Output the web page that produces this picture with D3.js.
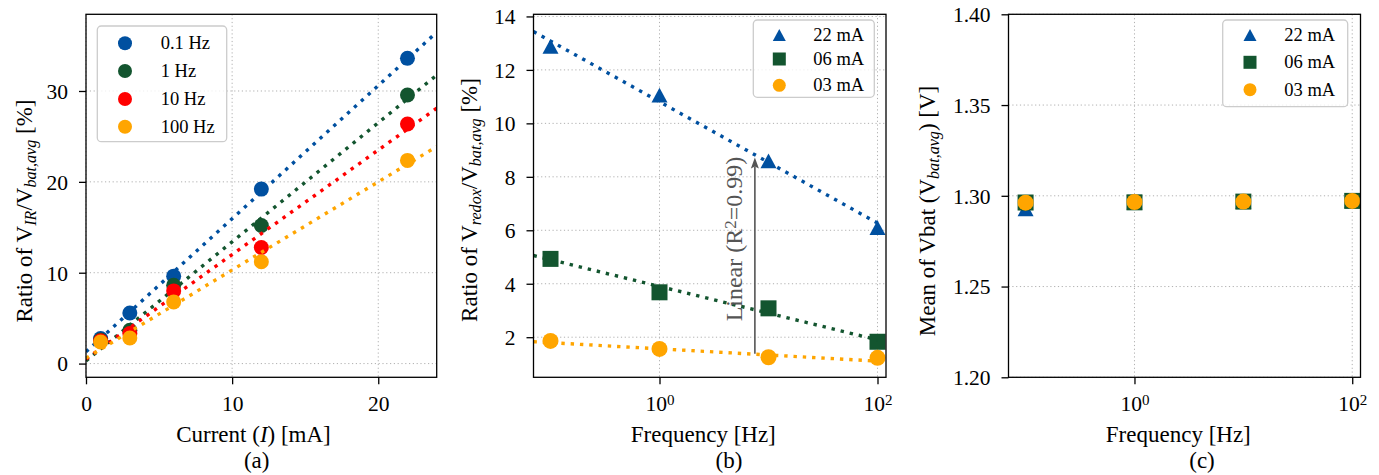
<!DOCTYPE html>
<html><head><meta charset="utf-8">
<script src="https://cdn.jsdelivr.net/npm/d3@7"></script>
<style>
body{margin:0;background:#fff}
text{font-family:"Liberation Serif","Times New Roman",serif;fill:#000}
</style>
</head><body>
<svg id="chart" width="1379" height="475"></svg>
<script>
// ---------- Panel (a) data ----------
const currentsMA = [1, 3, 6, 12, 22];
const freqLabelsA = ["0.1 Hz", "1 Hz", "10 Hz", "100 Hz"];
const ratioIR_0p1Hz = [2.75, 5.57, 9.62, 19.2, 33.6];
const ratioIR_1Hz   = [2.6, 3.67, 8.62, 15.2, 29.56];
const ratioIR_10Hz  = [2.5, 3.3, 8.0, 12.78, 26.36];
const ratioIR_100Hz = [2.38, 2.82, 6.79, 11.2, 22.36];
const fitSlopeA     = [1.465, 1.31, 1.15, 0.97];
const fitInterceptA = [1.3, 0.3, 0.5, 0.6];
const xTicksA = [0, 10, 20];
const yTicksA = [0, 10, 20, 30];

// ---------- Panel (b) data ----------
const freqsHz = [0.1, 1, 10, 100];
const currentLabels = ["22 mA", "06 mA", "03 mA"];
const redox_22mA = [12.88, 11.06, 8.6, 6.1];
const redox_06mA = [4.93, 3.68, 3.08, 1.83];
const redox_03mA = [1.86, 1.56, 1.25, 1.23];
const fitSlopeB     = [-2.27, -1.0, -0.23];   // per decade
const fitInterceptB = [10.81, 3.9, 1.565];    // at 1 Hz
const annotArrowFreq = 7.5, annotArrowFrom = 1.38, annotArrowTo = 8.72;
const annotTextFreq = 5.74, annotTextY = 5.67;
const yTicksB = [2, 4, 6, 8, 10, 12, 14];
const logTicks = [1, 100];

// ---------- Panel (c) data ----------
const vbat_22mA = [1.2928, 1.2965, 1.2968, 1.2972];
const vbat_06mA = [1.2963, 1.2964, 1.2968, 1.2972];
const vbat_03mA = [1.2962, 1.2966, 1.2968, 1.2972];
const yTicksC = [1.20, 1.25, 1.30, 1.35, 1.40];

// ---------- styles ----------
const BLUE = "#0050a0", GREEN = "#13552f", RED = "#ff0000", ORANGE = "#ffa500";
const colorsA = [BLUE, GREEN, RED, ORANGE];
const colorsB = [BLUE, GREEN, ORANGE];
const shapesB = ["tri", "sq", "circ"];
const TICKFS = 21.5, LABELFS = 23, LEGFS = 18.5;

const svg = d3.select("#chart");

function rich(textSel, parts) {
  parts.forEach(p => {
    const ts = textSel.append("tspan").text(p.t);
    if (p.it) ts.attr("font-style", "italic");
    if (p.sub) ts.attr("baseline-shift", "-22%").attr("font-size", "70%");
    if (p.sup) ts.attr("baseline-shift", "38%").attr("font-size", "70%");
  });
  return textSel;
}

function marker(g, shape, x, y, color, s) {
  if (shape === "circ") {
    g.append("circle").attr("cx", x).attr("cy", y).attr("r", s / 2).attr("fill", color);
  } else if (shape === "sq") {
    g.append("rect").attr("x", x - s / 2).attr("y", y - s / 2).attr("width", s).attr("height", s).attr("fill", color);
  } else {
    const w = s, h = s * 0.92;
    g.append("path").attr("d", `M${x},${y - h / 2}L${x + w / 2},${y + h / 2}L${x - w / 2},${y + h / 2}Z`).attr("fill", color);
  }
}

function panel(cfg) {
  const g = svg.append("g");
  const {x, y, L, R, T, B} = cfg;
  const clipId = "clip" + cfg.id;
  svg.append("clipPath").attr("id", clipId).append("rect")
    .attr("x", L).attr("y", T).attr("width", R - L).attr("height", B - T);
  // grid
  const grid = g.append("g").attr("stroke", "#b0b0b0").attr("stroke-width", 1).attr("stroke-dasharray", "1.2,2.6");
  cfg.xTicks.forEach(v => grid.append("line").attr("x1", x(v)).attr("x2", x(v)).attr("y1", T).attr("y2", B));
  cfg.yTicks.forEach(v => grid.append("line").attr("x1", L).attr("x2", R).attr("y1", y(v)).attr("y2", y(v)));
  // axes
  const ax = g.append("g").attr("transform", `translate(0,${B})`)
    .call(d3.axisBottom(x).tickValues(cfg.xTicks).tickSize(7).tickSizeOuter(0).tickPadding(11).tickFormat(cfg.xFmt || (d => d)));
  const ay = g.append("g").attr("transform", `translate(${L},0)`)
    .call(d3.axisLeft(y).tickValues(cfg.yTicks).tickSize(7).tickSizeOuter(0).tickPadding(11).tickFormat(cfg.yFmt || (d => d)));
  [ax, ay].forEach(a => {
    a.select(".domain").remove();
    a.selectAll(".tick line").attr("stroke", "#000").attr("stroke-width", 1.3);
    a.selectAll(".tick text").attr("font-size", TICKFS).attr("font-family", '"Liberation Serif",serif').attr("fill", "#000");
  });
  ay.selectAll(".tick text").attr("dy", "0.34em");
  if (cfg.logX) {
    ax.selectAll(".tick text").each(function (d) {
      const t = d3.select(this); t.text("");
      rich(t, [{t: "10"}, {t: String(Math.round(Math.log10(d))), sup: true}]);
    });
  }
  const plot = g.append("g").attr("clip-path", `url(#${clipId})`);
  cfg.draw(plot);
  // frame
  g.append("rect").attr("x", L).attr("y", T).attr("width", R - L).attr("height", B - T)
    .attr("fill", "none").attr("stroke", "#000").attr("stroke-width", 1.3);
  cfg.after && cfg.after(g);
  // labels
  rich(g.append("text").attr("text-anchor", "middle").attr("font-size", LABELFS)
    .attr("transform", `translate(${cfg.yl[0]},${cfg.yl[1]}) rotate(-90)`), cfg.ylabel);
  rich(g.append("text").attr("text-anchor", "middle").attr("font-size", LABELFS)
    .attr("x", cfg.xl[0]).attr("y", cfg.xl[1]), cfg.xlabel);
  g.append("text").attr("text-anchor", "middle").attr("font-size", LABELFS)
    .attr("x", cfg.cap[0]).attr("y", cfg.cap[1]).text(cfg.caption);
  // legend
  const lg = g.append("g");
  const lb = cfg.legend;
  lg.append("rect").attr("x", lb.x0).attr("y", lb.y0).attr("width", lb.x1 - lb.x0).attr("height", lb.y1 - lb.y0)
    .attr("rx", 4).attr("fill", "#fff").attr("fill-opacity", 0.8).attr("stroke", "#cccccc").attr("stroke-width", 1.3);
  lb.items.forEach((it, i) => {
    marker(lg, it.shape, lb.mx, lb.rows[i], it.color, it.size);
    lg.append("text").attr("x", lb.tx).attr("y", lb.rows[i]).attr("dy", "0.33em").attr("font-size", LEGFS).text(it.label);
  });
  return g;
}

const dotted = sel => sel.attr("fill", "none").attr("stroke-width", 3.4).attr("stroke-dasharray", "3.4,5.9");

// ---------- Panel (a) ----------
{
  const L = 86, R = 436.7, T = 14.3, B = 377.3;
  const x = d3.scaleLinear().domain([0, 24]).range([L, R]);
  const y = d3.scaleLinear().domain([-1.51, 38.44]).range([B, T]);
  const seriesA = [ratioIR_0p1Hz, ratioIR_1Hz, ratioIR_10Hz, ratioIR_100Hz];
  panel({
    id: "a", x, y, L, R, T, B, xTicks: xTicksA, yTicks: yTicksA,
    draw: p => {
      seriesA.forEach((vals, i) => {
        vals.forEach((v, j) => marker(p, "circ", x(currentsMA[j]), y(v), colorsA[i], 15));
        const dom = x.domain();
        const line = d3.line().x(d => x(d)).y(d => y(fitInterceptA[i] + fitSlopeA[i] * d));
        p.append("path").attr("d", line(dom)).attr("stroke", colorsA[i]).call(dotted);
      });
    },
    yl: [32, 211],
    ylabel: [{t: "Ratio of V"}, {t: "IR", sub: true, it: true}, {t: "/V"}, {t: "bat,avg", sub: true, it: true}, {t: " [%]"}],
    xl: [253.5, 442],
    xlabel: [{t: "Current ("}, {t: "I", it: true}, {t: ") [mA]"}],
    cap: [256.7, 468], caption: "(a)",
    legend: {x0: 97.3, x1: 226.7, y0: 26, y1: 141.7, mx: 125, tx: 160.7, rows: [43.3, 71, 99, 126.7],
      items: freqLabelsA.map((l, i) => ({label: l, color: colorsA[i], shape: "circ", size: 14}))}
  });
}

// ---------- Panel (b) ----------
{
  const L = 533.5, R = 886, T = 14.3, B = 377.3;
  const x = d3.scaleLog().domain([Math.pow(10, -1.156), Math.pow(10, 2.078)]).range([L, R]);
  const y = d3.scaleLinear().domain([0.5, 14.08]).range([B, T]);
  const seriesB = [redox_22mA, redox_06mA, redox_03mA];
  panel({
    id: "b", x, y, L, R, T, B, xTicks: logTicks, yTicks: yTicksB, logX: true,
    draw: p => {
      seriesB.forEach((vals, i) => {
        vals.forEach((v, j) => marker(p, shapesB[i], x(freqsHz[j]), y(v), colorsB[i], 16));
        const fx = [x.domain()[0], freqsHz[freqsHz.length - 1]];
        const line = d3.line().x(d => x(d)).y(d => y(fitInterceptB[i] + fitSlopeB[i] * Math.log10(d)));
        p.append("path").attr("d", line(fx)).attr("stroke", colorsB[i]).call(dotted);
      });
    },
    after: g => {
      const ax = x(annotArrowFreq), y0 = y(annotArrowFrom), y1 = y(annotArrowTo);
      g.append("line").attr("x1", ax).attr("x2", ax).attr("y1", y0).attr("y2", y1 + 9)
        .attr("stroke", "#555").attr("stroke-width", 1.6);
      g.append("path").attr("d", `M${ax},${y1}L${ax + 4},${y1 + 11}L${ax},${y1 + 9}L${ax - 4},${y1 + 11}Z`).attr("fill", "#555");
      rich(g.append("text").attr("text-anchor", "middle").attr("font-size", 24).style("fill", "#555")
        .attr("transform", `translate(${x(annotTextFreq)},${y(annotTextY)}) rotate(-90)`),
        [{t: "Linear (R"}, {t: "2", sup: true}, {t: "=0.99)"}]).selectAll("tspan").style("fill", "#555");
    },
    yl: [477, 200],
    ylabel: [{t: "Ratio of V"}, {t: "redox", sub: true, it: true}, {t: "/V"}, {t: "bat,avg", sub: true, it: true}, {t: " [%]"}],
    xl: [703.3, 442],
    xlabel: [{t: "Frequency [Hz]"}],
    cap: [729, 468], caption: "(b)",
    legend: {x0: 753.3, x1: 874.3, y0: 20, y1: 97.3, mx: 779.3, tx: 813.3, rows: [35, 59, 85.3],
      items: currentLabels.map((l, i) => ({label: l, color: colorsB[i], shape: shapesB[i], size: 13}))}
  });
}

// ---------- Panel (c) ----------
{
  const L = 1008.5, R = 1360.5, T = 14.3, B = 377.3;
  const x = d3.scaleLog().domain([Math.pow(10, -1.157), Math.pow(10, 2.076)]).range([L, R]);
  const y = d3.scaleLinear().domain([1.2, 1.4]).range([B, T]);
  const seriesC = [vbat_22mA, vbat_06mA, vbat_03mA];
  panel({
    id: "c", x, y, L, R, T, B, xTicks: logTicks, yTicks: yTicksC, logX: true,
    yFmt: d3.format(".2f"),
    draw: p => {
      seriesC.forEach((vals, i) => {
        vals.forEach((v, j) => marker(p, shapesB[i], x(freqsHz[j]), y(v), colorsB[i], 16));
      });
    },
    yl: [935, 211],
    ylabel: [{t: "Mean of Vbat (V"}, {t: "bat,avg", sub: true, it: true}, {t: ") [V]"}],
    xl: [1178.3, 442],
    xlabel: [{t: "Frequency [Hz]"}],
    cap: [1202, 468], caption: "(c)",
    legend: {x0: 1222.7, x1: 1347.7, y0: 20, y1: 106.7, mx: 1250, tx: 1284.3, rows: [35, 62.3, 89.7],
      items: currentLabels.map((l, i) => ({label: l, color: colorsB[i], shape: shapesB[i], size: 13}))}
  });
}
</script>
</body></html>
